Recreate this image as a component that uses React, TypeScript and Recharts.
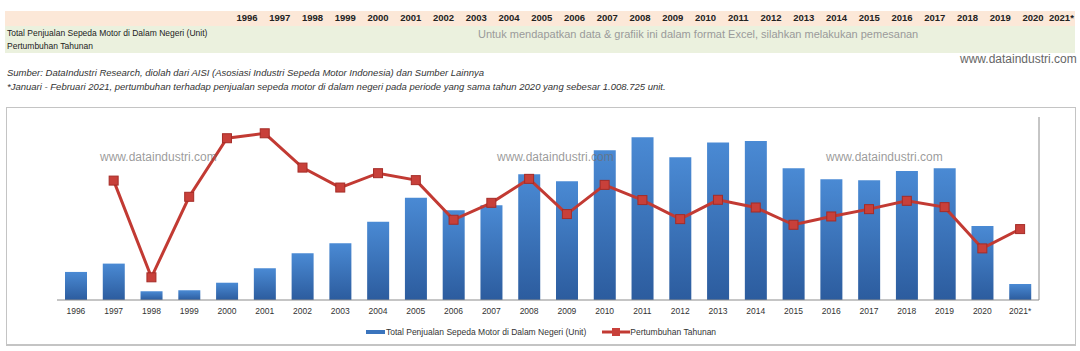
import React from 'react';
import { ComposedChart, Bar, Line, XAxis, YAxis, Legend } from 'recharts';

// Indonesian domestic motorcycle sales and yearly growth
const years = [
  '1996', '1997', '1998', '1999', '2000', '2001', '2002', '2003', '2004',
  '2005', '2006', '2007', '2008', '2009', '2010', '2011', '2012', '2013',
  '2014', '2015', '2016', '2017', '2018', '2019', '2020', '2021*',
];

const sales = [
  1380000, 1790000, 430000, 480000, 850000, 1560000, 2300000, 2790000, 3850000,
  5030000, 4410000, 4660000, 6180000, 5840000, 7360000, 8000000, 7020000, 7740000,
  7820000, 6480000, 5940000, 5890000, 6350000, 6480000, 3640000, 790000,
];

const growth: (number | null)[] = [
  null, 30.5, -75.2, 12.8, 76.8, 82.2, 44.7, 22.9, 38.6,
  31.0, -12.3, 6.2, 32.4, -6.1, 25.8, 9.2, -11.6, 9.5,
  1.1, -17.8, -8.7, -0.7, 8.4, 1.5, -43.6, -22.5,
];

const growthTicks = [-100, -80, -60, -40, -20, 0, 20, 40, 60, 80, 100];

const SALES_LABEL = 'Total Penjualan Sepeda Motor di Dalam Negeri (Unit)';
const GROWTH_LABEL = 'Pertumbuhan Tahunan';

const COLORS = {
  barTop: '#4a8ad4',
  barBottom: '#2c5c9e',
  line: '#c23a33',
  marker: '#c8403a',
  markerEdge: '#a52c27',
  axis: '#8c8c8c',
};

const data = years.map((year, i) => ({ year, sales: sales[i], growth: growth[i] }));

const SquareDot = (props: any) => {
  const { cx, cy, index } = props;
  if (cx == null || cy == null) return <g key={`d-${index}`} />;
  return (
    <rect
      key={`d-${index}`}
      x={cx - 4.5}
      y={cy - 4.5}
      width={9}
      height={9}
      fill={COLORS.marker}
      stroke={COLORS.markerEdge}
      strokeWidth={1}
    />
  );
};

const ChartLegend = () => (
  <div
    style={{
      display: 'flex',
      justifyContent: 'center',
      alignItems: 'center',
      height: 24,
      fontFamily: '"Liberation Sans", Arial, sans-serif',
      fontSize: 8.5,
      color: '#333',
      paddingRight: 49,
    }}
  >
    <span style={{ display: 'inline-block', width: 19, height: 4, background: '#3a74bd' }} />
    <span style={{ marginLeft: 1 }}>{SALES_LABEL}</span>
    <svg width={28} height={10} style={{ marginLeft: 16 }}>
      <line x1={0} y1={5} x2={28} y2={5} stroke={COLORS.line} strokeWidth={3} />
      <rect x={10} y={1} width={8} height={8} fill={COLORS.marker} />
    </svg>
    <span>{GROWTH_LABEL}</span>
  </div>
);

const font = '"Liberation Sans", Arial, sans-serif';

const Watermark = ({ left, top }: { left: number; top: number }) => (
  <div
    style={{
      position: 'absolute',
      left,
      top,
      fontFamily: font,
      fontSize: 12,
      color: 'rgba(110,110,110,0.7)',
      pointerEvents: 'none',
    }}
  >
    www.dataindustri.com
  </div>
);

export default function App() {
  return (
    <div
      style={{
        position: 'absolute',
        left: 0,
        top: 0,
        width: 1080,
        height: 351,
        background: '#fff',
        overflow: 'hidden',
        fontFamily: font,
      }}
    >
      {/* header table */}
      <div style={{ position: 'absolute', left: 5, top: 11, width: 1070, height: 15, background: '#fce8d8' }} />
      <div style={{ position: 'absolute', left: 5, top: 26, width: 1070, height: 27, background: '#ebf1de' }} />
      {years.map((y, i) => (
        <div
          key={y}
          style={{
            position: 'absolute',
            left: i === 25 ? 1049 : 247 + i * 32.75 - 15,
            width: i === 25 ? 'auto' : 30,
            top: 12,
            textAlign: 'center',
            fontWeight: 'bold',
            fontSize: 9.5,
            color: '#222',
          }}
        >
          {y}
        </div>
      ))}
      <div style={{ position: 'absolute', left: 7, top: 28, fontSize: 8.5, color: '#222' }}>{SALES_LABEL}</div>
      <div style={{ position: 'absolute', left: 7, top: 41, fontSize: 8.5, color: '#222' }}>{GROWTH_LABEL}</div>
      <div style={{ position: 'absolute', left: 478, top: 28, fontSize: 11, color: '#9a9a9a' }}>
        Untuk mendapatkan data &amp; grafiik ini dalam format Excel, silahkan melakukan pemesanan
      </div>
      <div style={{ position: 'absolute', left: 960, top: 52, fontSize: 12, color: '#666' }}>www.dataindustri.com</div>

      {/* source notes */}
      <div style={{ position: 'absolute', left: 7, top: 67, fontSize: 9.5, fontStyle: 'italic', color: '#333' }}>
        Sumber: DataIndustri Research, diolah dari AISI (Asosiasi Industri Sepeda Motor Indonesia) dan Sumber Lainnya
      </div>
      <div style={{ position: 'absolute', left: 7, top: 81, fontSize: 9.5, fontStyle: 'italic', color: '#333' }}>
        *Januari - Februari 2021, pertumbuhan terhadap penjualan sepeda motor di dalam negeri pada periode yang sama tahun 2020 yang sebesar 1.008.725 unit.
      </div>

      {/* chart frame */}
      <div
        style={{
          position: 'absolute',
          left: 6,
          top: 107,
          width: 1068,
          height: 236,
          border: '1px solid #c4c4c4',
          borderBottom: '2px solid #c4c4c4',
        }}
      >
        <ComposedChart
          width={1067}
          height={236}
          data={data}
          margin={{ top: 9, right: 0, bottom: 0, left: 50 }}
        >
          <defs>
            <linearGradient id="barFill" x1="0" y1="0" x2="0" y2="1">
              <stop offset="0%" stopColor={COLORS.barTop} />
              <stop offset="100%" stopColor={COLORS.barBottom} />
            </linearGradient>
          </defs>
          <XAxis
            dataKey="year"
            interval={0}
            height={20}
            tickLine={false}
            axisLine={{ stroke: COLORS.axis }}
            tick={{ fontSize: 8.5, fill: '#333', fontFamily: font }}
          />
          <YAxis yAxisId="left" hide domain={[0, 9000000]} />
          <YAxis
            yAxisId="right"
            orientation="right"
            domain={[-100, 100]}
            ticks={growthTicks}
            tick={false}
            tickSize={3}
            width={35}
            axisLine={{ stroke: COLORS.axis }}
            tickLine={{ stroke: COLORS.axis }}
          />
          <Legend verticalAlign="bottom" height={24} content={<ChartLegend />} />
          <Bar
            yAxisId="left"
            dataKey="sales"
            name={SALES_LABEL}
            barSize={22}
            fill="url(#barFill)"
            isAnimationActive={false}
          />
          <Line
            yAxisId="right"
            dataKey="growth"
            name={GROWTH_LABEL}
            type="linear"
            stroke={COLORS.line}
            strokeWidth={3}
            dot={<SquareDot />}
            activeDot={false}
            isAnimationActive={false}
          />
        </ComposedChart>
      </div>

      <Watermark left={100} top={150} />
      <Watermark left={497} top={150} />
      <Watermark left={826} top={150} />
    </div>
  );
}
